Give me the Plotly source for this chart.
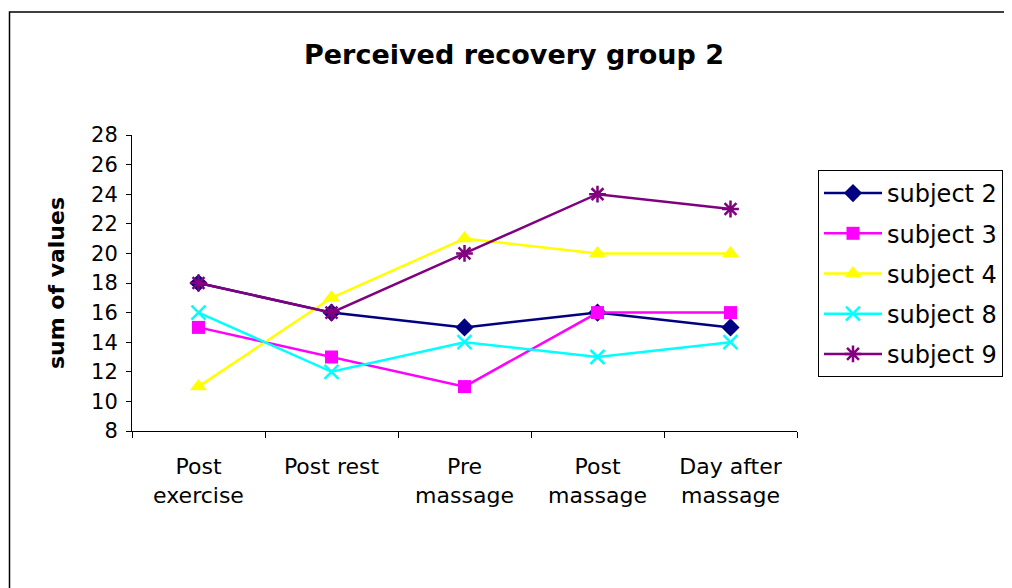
import plotly.graph_objects as go

categories = ["Post<br>exercise", "Post rest", "Pre<br>massage", "Post<br>massage", "Day after<br>massage"]
subject2 = [18, 16, 15, 16, 15]
subject3 = [15, 13, 11, 16, 16]
subject4 = [11, 17, 21, 20, 20]
subject8 = [16, 12, 14, 13, 14]
subject9 = [18, 16, 20, 24, 23]
y_ticks = list(range(8, 29, 2))

series = [
    ("subject 2", subject2, "#000080", "diamond", 14, 0),
    ("subject 3", subject3, "#FF00FF", "square", 13, 0),
    ("subject 4", subject4, "#FFFF00", "triangle-up", 15, 0),
    ("subject 8", subject8, "#00FFFF", "x-thin-open", 14, 2.5),
    ("subject 9", subject9, "#800080", "asterisk-open", 14, 2.5),
]

fig = go.Figure()
for name, vals, color, sym, size, lw in series:
    fig.add_trace(go.Scatter(
        x=categories, y=vals, name=name, mode="lines+markers",
        legendgroup=name,
        line=dict(color=color, width=2.5),
        marker=dict(symbol=sym, size=size, color=color,
                    line=dict(color=color, width=lw)),
    ))

OFF = 8  # page body margin
W, H = 1012, 588
# target pixel positions in the screenshot
px0, px1, py0, py1 = 132, 797, 135, 431
L, T = px0 - OFF, py0 - OFF
pw, ph = px1 - px0, py1 - py0
R = W - L - pw
B = H - T - ph

def fx(x):
    return (x - px0) / pw

def fy(y):
    return (py1 - y) / ph

fig.update_layout(
    width=W, height=H,
    margin=dict(l=L, r=R, t=T, b=B),
    paper_bgcolor="white", plot_bgcolor="white",
    font=dict(family="DejaVu Sans, Arial, sans-serif", color="black", size=21),
    title=dict(text="<b>Perceived recovery group 2</b>", x=(514 - OFF) / W, xanchor="center",
               y=1 - (55 - OFF) / H, yanchor="middle", font=dict(size=27)),
    showlegend=True,
    legend=dict(
        x=fx(818), xanchor="left",
        y=fy(170), yanchor="top",
        bordercolor="black", borderwidth=1, bgcolor="white",
        font=dict(size=24), tracegroupgap=6, traceorder="grouped",
        itemwidth=58,
    ),
    xaxis=dict(
        type="category", range=[-0.5, 4.5],
        showline=True, linecolor="black", linewidth=1,
        ticks="outside", tickson="boundaries", ticklen=6, tickcolor="black",
        showgrid=False, tickfont=dict(size=22), ticklabelstandoff=16,
    ),
    yaxis=dict(
        range=[8, 28], tickvals=y_ticks,
        showline=True, linecolor="black", linewidth=1,
        ticks="outside", ticklen=5, tickcolor="black", ticklabelstandoff=4,
        showgrid=False, zeroline=False, tickfont=dict(size=21),
        title=dict(text="<b>sum of values</b>", font=dict(size=22), standoff=20),
    ),
)

fig.add_shape(type="rect", xref="paper", yref="paper",
              x0=fx(9.5), x1=fx(1030),
              y0=fy(600), y1=fy(12),
              line=dict(color="black", width=1.5), fillcolor="rgba(0,0,0,0)", layer="below")

fig.write_html("out.html")
